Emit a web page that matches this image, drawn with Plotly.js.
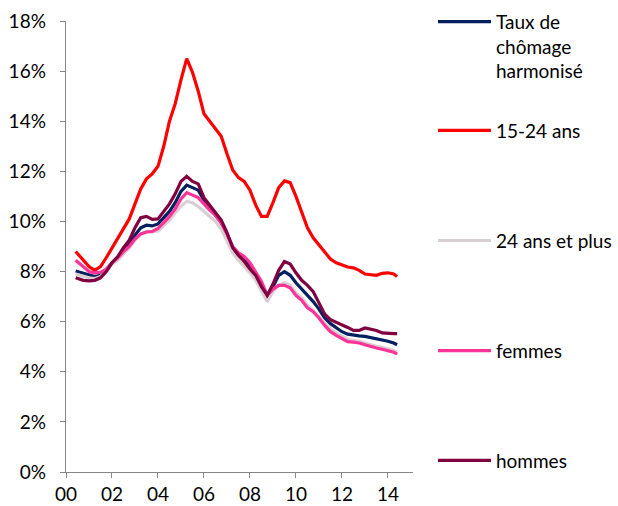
<!DOCTYPE html>
<html>
<head>
<meta charset="utf-8">
<script src="https://cdn.plot.ly/plotly-3.0.1.min.js"></script>
<style>html,body{margin:0;padding:0;background:#fff;}#chart{width:618px;height:506px;}</style>
</head>
<body>
<div id="chart"></div>
<script>
// Years (decimal), quarterly readings
const years = [2000.42, 2000.75, 2001.0, 2001.25, 2001.5, 2001.75, 2002.0, 2002.25, 2002.5, 2002.75,
  2003.0, 2003.25, 2003.5, 2003.75, 2004.0, 2004.25, 2004.5, 2004.75, 2005.0, 2005.25,
  2005.5, 2005.75, 2006.0, 2006.25, 2006.5, 2006.75, 2007.0, 2007.25, 2007.5, 2007.75,
  2008.0, 2008.25, 2008.5, 2008.75, 2009.0, 2009.25, 2009.5, 2009.75, 2010.0, 2010.25,
  2010.5, 2010.75, 2011.0, 2011.25, 2011.5, 2011.75, 2012.0, 2012.25, 2012.5, 2012.75,
  2013.0, 2013.25, 2013.5, 2013.75, 2014.0, 2014.25, 2014.4];

const tauxHarmonise = [8.02, 7.92, 7.85, 7.8, 7.85, 8.05, 8.35, 8.55, 8.85, 9.1,
  9.45, 9.75, 9.85, 9.82, 9.9, 10.15, 10.4, 10.75, 11.2, 11.45,
  11.35, 11.25, 10.85, 10.55, 10.3, 9.95, 9.5, 8.95, 8.65, 8.45,
  8.2, 7.9, 7.5, 7.05, 7.4, 7.85, 8.0, 7.85, 7.55, 7.3,
  7.05, 6.8, 6.5, 6.15, 5.92, 5.75, 5.6, 5.5, 5.45, 5.43,
  5.41, 5.37, 5.33, 5.28, 5.22, 5.15, 5.08];

const jeunes15_24 = [8.8, 8.45, 8.2, 8.05, 8.2, 8.55, 8.95, 9.35, 9.75, 10.1,
  10.7, 11.3, 11.7, 11.9, 12.2, 13.0, 14.0, 14.7, 15.65, 16.5,
  15.95, 15.2, 14.3, 14.0, 13.75, 13.4, 12.7, 12.05, 11.75, 11.6,
  11.25, 10.65, 10.2, 10.2, 10.75, 11.35, 11.62, 11.55, 11.0, 10.35,
  9.75, 9.35, 9.05, 8.75, 8.5, 8.35, 8.25, 8.18, 8.15, 8.05,
  7.9, 7.87, 7.85, 7.93, 7.95, 7.9, 7.8];

const ans24Plus = [7.9, 7.8, 7.75, 7.72, 7.8, 8.0, 8.3, 8.45, 8.7, 8.95,
  9.25, 9.5, 9.6, 9.58, 9.62, 9.85, 10.05, 10.35, 10.6, 10.8,
  10.75, 10.6, 10.4, 10.2, 10.0, 9.7, 9.25, 8.75, 8.45, 8.2,
  7.95, 7.65, 7.25, 6.8, 7.2, 7.45, 7.55, 7.45, 7.15, 6.95,
  6.65, 6.45, 6.2, 5.95, 5.72, 5.55, 5.42, 5.3, 5.25, 5.22,
  5.15, 5.08, 5.02, 4.98, 4.92, 4.85, 4.78];

const femmes = [8.45, 8.2, 8.0, 7.95, 7.97, 8.1, 8.35, 8.55, 8.8, 9.0,
  9.3, 9.5, 9.58, 9.6, 9.72, 9.95, 10.2, 10.5, 10.9, 11.15,
  11.05, 10.95, 10.7, 10.45, 10.25, 9.95, 9.5, 9.0, 8.75, 8.6,
  8.35, 8.0, 7.6, 7.05, 7.3, 7.45, 7.45, 7.35, 7.05, 6.85,
  6.55, 6.4, 6.15, 5.85, 5.6, 5.45, 5.33, 5.2, 5.18, 5.15,
  5.08, 5.0, 4.95, 4.9, 4.85, 4.78, 4.7];

const hommes = [7.75, 7.65, 7.63, 7.65, 7.75, 8.0, 8.35, 8.6, 8.95, 9.25,
  9.75, 10.15, 10.2, 10.08, 10.1, 10.4, 10.7, 11.1, 11.6, 11.8,
  11.6, 11.5, 10.95, 10.65, 10.35, 10.05, 9.55, 8.95, 8.65, 8.4,
  8.1, 7.85, 7.4, 7.05, 7.5, 8.05, 8.4, 8.3, 7.95, 7.65,
  7.45, 7.2, 6.75, 6.3, 6.08, 5.98, 5.9, 5.77, 5.65, 5.65,
  5.75, 5.7, 5.65, 5.55, 5.52, 5.52, 5.52];

const seriesNames = ['Taux de<br>chômage<br>harmonisé', '15-24 ans', '24 ans et plus', 'femmes', 'hommes'];
const seriesColors = ['#002060', '#FF0000', '#D9CED1', '#FF3399', '#800040'];
const xTickVals = [2000, 2002, 2004, 2006, 2008, 2010, 2012, 2014];
const xTickText = ['00', '02', '04', '06', '08', '10', '12', '14'];

const seriesValues = [tauxHarmonise, jeunes15_24, ans24Plus, femmes, hommes];
const legendIds = ['legend', 'legend2', 'legend3', 'legend4', 'legend5'];

const FONT = {family: 'Lato, "Open Sans", sans-serif', size: 19, color: '#000'};

const traces = seriesValues.map((vals, i) => ({
  type: 'scatter',
  mode: 'lines',
  x: years,
  y: vals,
  name: seriesNames[i],
  legend: legendIds[i],
  line: {color: seriesColors[i], width: 3.2, shape: 'linear'},
  hoverinfo: 'skip'
}));

const legendYs = [1.0406, 0.757, 0.513, 0.269, 0.0255];
const legendBase = {
  x: 1.0576, xanchor: 'left', yanchor: 'middle',
  bgcolor: 'rgba(0,0,0,0)', borderwidth: 0,
  font: FONT, itemwidth: 53, valign: 'top', tracegroupgap: 0
};

const layout = {
  width: 618, height: 506,
  margin: {l: 66, r: 205, t: 21, b: 34, pad: 0, autoexpand: false},
  paper_bgcolor: '#fff', plot_bgcolor: '#fff',
  showlegend: true,
  font: FONT,
  xaxis: {
    range: [2000, 2015.09],
    tickvals: xTickVals, ticktext: xTickText,
    ticks: 'outside', ticklen: 5, tickwidth: 1, tickcolor: '#868686',
    showline: true, linecolor: '#868686', linewidth: 1.3,
    showgrid: false, zeroline: false,
    tickfont: FONT, ticklabelstandoff: 0
  },
  yaxis: {
    range: [0, 18], dtick: 2, tick0: 0,
    ticksuffix: '%',
    ticks: 'outside', ticklen: 5, tickwidth: 1, tickcolor: '#868686',
    showline: true, linecolor: '#868686', linewidth: 1.3,
    showgrid: false, zeroline: false,
    tickfont: FONT, ticklabelstandoff: 10
  }
};
legendIds.forEach((id, i) => {
  layout[id] = Object.assign({}, legendBase, {y: legendYs[i]});
});
layout.legend.yanchor = 'top';

Plotly.newPlot('chart', traces, layout, {displayModeBar: false, staticPlot: true});
</script>
</body>
</html>
